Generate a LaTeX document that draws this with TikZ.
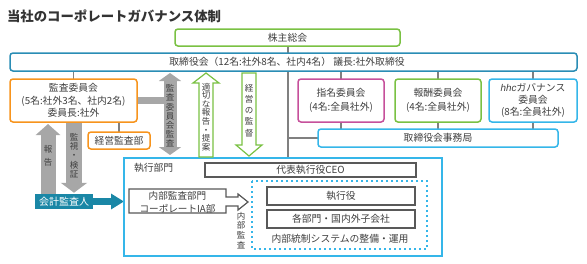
\documentclass[tikz,border=0pt]{standalone}
\usepackage{fontspec}
\setmainfont{Noto Sans CJK JP}
\newfontfamily\latinfont{Liberation Sans}
\usetikzlibrary{arrows.meta}
\pgfdeclarelayer{bg}
\pgfsetlayers{bg,main}
\definecolor{cgreen}{HTML}{7AC143}
\definecolor{cblue}{HTML}{2A8DB5}
\definecolor{corange}{HTML}{F7941D}
\definecolor{cpink}{HTML}{C6509B}
\definecolor{ccyan}{HTML}{35B6E9}
\definecolor{cteal}{HTML}{1A87A6}
\definecolor{cgray}{HTML}{A7A7A7}
\definecolor{cline}{HTML}{808080}
\definecolor{cdark}{HTML}{595959}
\definecolor{ctext}{HTML}{3F3F3F}
\definecolor{ctitle}{HTML}{333333}
\begin{document}
\begin{tikzpicture}[x=1pt,y=-1pt,
  every node/.style={inner sep=0pt, outer sep=0pt, text=ctext, font=\fontsize{9.8}{12.5}\selectfont},
  cbox/.style={draw=#1, line width=1.5pt, rounded corners=3pt, fill=white, align=center},
  dbox/.style={draw=cdark, line width=1.2pt, fill=white, align=center},
  conn/.style={draw=cline, line width=1.3pt},
  vtxt/.style={align=center, font=\fontsize{8.5}{#1}\selectfont},
  grayarrow/.style={draw=cgray, line width=#1},
  outarrow/.style={draw=cgreen, line width=1.2pt, fill=white, line join=miter},
]
\useasboundingbox (0,0) rectangle (587,263);

% title
\node[anchor=west, font=\fontsize{13.4}{14}\selectfont\bfseries, text=ctitle] (title) at (7,16) {当社のコーポレートガバナンス体制};

% top boxes
\node[cbox=cgreen, minimum width=225pt, minimum height=17pt] (sh) at (287.5,37.5) {株主総会};
\node[cbox=cblue, minimum width=567pt, minimum height=18pt] (bd) at (293.5,62) {};
\node (bdt) at (287,62) {取締役会（12名:社外8名、社内4名） 議長:社外取締役};

% committees
\node[cbox=corange, minimum width=127pt, minimum height=43pt] (ac) at (73.5,100.5) {監査委員会\\(5名:社外3名、社内2名)\\委員長:社外};
\node[cbox=corange, minimum width=62pt, minimum height=17pt] (ma) at (119,140.5) {経営監査部};
\node[cbox=cpink, minimum width=86pt, minimum height=43pt, font=\fontsize{9.8}{13.5}\selectfont] (nc) at (341,100.5) {指名委員会\\(4名:全員社外)};
\node[cbox=cgreen, minimum width=86pt, minimum height=43pt, font=\fontsize{9.8}{13.5}\selectfont] (rc) at (438,100.5) {報酬委員会\\(4名:全員社外)};
\node[cbox=ccyan, minimum width=88pt, minimum height=43pt, font=\fontsize{9.8}{12}\selectfont] (hc) at (533,100.5) {{\latinfont\itshape hhc}ガバナンス\\委員会\\(8名:全員社外)};
\node[cbox=ccyan, minimum width=240pt, minimum height=18pt] (bo) at (438,138) {取締役会事務局};

% execution block
\node[draw=ccyan, line width=1.5pt, fill=white, minimum width=318pt, minimum height=98pt] (ex) at (283,207) {};
\node[anchor=west] (exl) at (134,168) {執行部門};
\draw[draw=ccyan, line width=2.2pt, dash pattern=on 2.4pt off 2.6pt] (252,181) rectangle (427,249);
\node[dbox, minimum width=211pt, minimum height=14pt] (ceo) at (310.5,170) {代表執行役CEO};
\node[dbox, minimum width=148pt, minimum height=18pt] (eo) at (341,196) {執行役};
\node[dbox, minimum width=148pt, minimum height=18pt] (dp) at (341,219) {各部門・国内外子会社};
\node (ict) at (340,239) {内部統制システムの整備・運用};

% internal audit shape
\draw[draw=cdark, line width=1.2pt, fill=white, line join=miter]
  (129,189) -- (226,189) -- (226,197) -- (238,197) -- (238,194) -- (248,202)
  -- (238,210) -- (238,206) -- (226,206) -- (226,213) -- (129,213) -- cycle;
\node[align=center, font=\fontsize{9.6}{12.5}\selectfont] (ia) at (177.5,202.5) {内部監査部門\\コーポレートIA部};
\coordinate (iatop) at (183,189);
\node[vtxt=9.7] (iav) at (241,230.5) {内\\部\\監\\査};

% accounting auditor
\node[fill=cteal, minimum width=58pt, minimum height=15.5pt, text=white, font=\fontsize{10}{12}\selectfont] (ca) at (64,201.5) {会計監査人};

% green outlined arrows
\draw[outarrow] (199,157) -- (199,83) -- (193,83) -- (206,73) -- (219,83) -- (213,83) -- (213,157) -- cycle;
\node[vtxt=8.6] (rep) at (206,117) {適\\切\\な\\報\\告\\・\\提\\案};
\draw[outarrow] (242,73) -- (256,73) -- (256,145) -- (262,145) -- (249,156) -- (236,145) -- (242,145) -- cycle;
\node[vtxt=11.2] (sup) at (249,110.5) {経\\営\\の\\監\\督};

% gray arrow texts
\coordinate (dax) at (170,0);
\coordinate (vx) at (288,0);

\begin{pgfonlayer}{bg}
  % connectors
  \draw[conn] (sh.south -| vx) -- (bd.north -| vx);
  \draw[conn] (bd.south -| vx) -- (ex.north -| vx);
  \draw[conn] (bo.west -| vx) -- (bo.west);
  \draw[conn] (ac.north) -- (ac.north |- bd.south);
  \draw[conn] (ma.north) -- (ma.north |- ac.south);
  \draw[conn] (nc.north) -- (nc.north |- bd.south);
  \draw[conn] (rc.north) -- (rc.north |- bd.south);
  \draw[conn] (hc.north) -- (hc.north |- bd.south);
  \draw[conn] (nc.south) -- (nc.south |- bo.north);
  \draw[conn] (rc.south) -- (rc.south |- bo.north);
  \draw[conn] (hc.south) -- (hc.south |- bo.north);
  \draw[draw=cdark, line width=1.2pt] (ceo.west) -| (iatop);
  \draw[draw=cdark, line width=1.2pt] (eo.north) -- (eo.north |- ceo.south);
  \draw[draw=cdark, line width=1.2pt] (eo.south) -- (dp.north);
  % gray arrows
  \draw[grayarrow=7.5pt] (ac.east) -- (ac.east -| dax);
  \draw[grayarrow=13pt, {Triangle[length=8pt,width=22pt]}-{Triangle[length=8pt,width=22pt]}]
    ([yshift=-2pt]bd.south -| dax) -- ([yshift=3pt]ex.north -| dax);
  \draw[grayarrow=15pt, -{Triangle[length=11pt,width=24pt]}]
    ([xshift=-16pt]ca.north) -- ([xshift=-16pt,yshift=-2pt]ca.north |- ac.south);
  \draw[grayarrow=16pt, -{Triangle[length=10pt,width=26pt]}]
    ([xshift=10pt]ca.north |- ac.south) -- ([xshift=10pt,yshift=1pt]ca.north);
  % teal arrow
  \draw[draw=cteal, line width=7pt, -{Triangle[length=13pt,width=15pt]}] (ca.east) -- (ca.east -| ex.west);
\end{pgfonlayer}

\node[vtxt=9.2] (dav) at (170,116) {監\\査\\委\\員\\会\\監\\査};
\node[vtxt=12.5] (hok) at (48,156) {報\\告};
\node[vtxt=9.3] (kan) at (74,155.5) {監\\視\\・\\検\\証};
\end{tikzpicture}
\end{document}
